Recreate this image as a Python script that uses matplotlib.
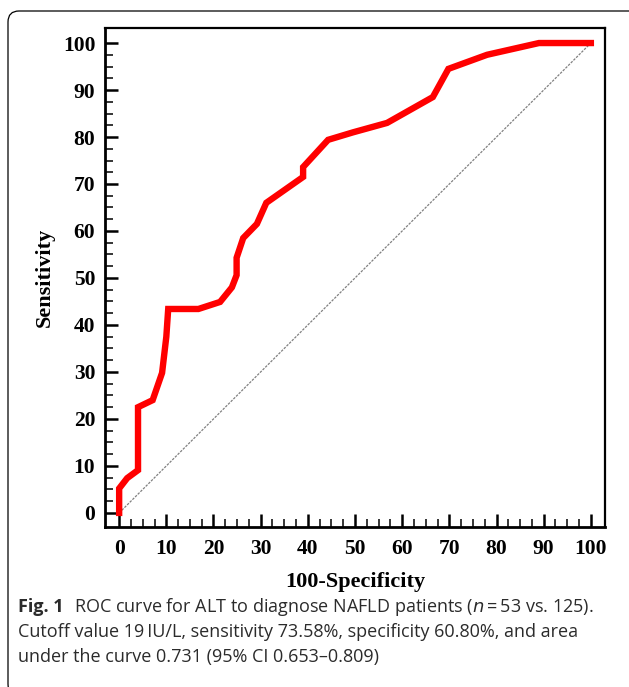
import matplotlib
matplotlib.use("Agg")
import matplotlib.pyplot as plt
import matplotlib.patches as mpatches
import matplotlib.transforms as mtransforms
from matplotlib.ticker import FixedLocator

# ROC curve points (100-specificity, sensitivity)
fpr = [0, 0, 1.7, 4.0, 4.0, 7.1, 9.1, 10.0, 10.4, 16.8, 21.4, 23.9, 24.9, 24.9,
       26.3, 29.2, 31.2, 39.0, 39.0, 44.3, 49.6, 56.8, 66.5, 69.8, 78.0, 89.0, 100]
tpr = [0, 5.2, 7.4, 9.1, 22.5, 24.0, 29.8, 37.5, 43.4, 43.4, 44.9, 48.0, 50.6, 54.3,
       58.5, 61.5, 66.0, 71.5, 73.6, 79.4, 81.0, 83.0, 88.5, 94.5, 97.5, 100, 100]
ref_line = [0, 100]
ticks = list(range(0, 101, 10))
minor_ticks = [t + d for t in range(0, 100, 10) for d in (2.5, 5, 7.5)]

caption_lines = [
    "ROC curve for ALT to diagnose NAFLD patients ($\\it{n}$\u2009=\u200953 vs. 125).",
    "Cutoff value 19\u2009IU/L, sensitivity 73.58%, specificity 60.80%, and area",
    "under the curve 0.731 (95% CI 0.653\u20130.809)",
]

W, H = 629, 687
fig = plt.figure(figsize=(W / 100, H / 100), dpi=100)
fig.patch.set_facecolor("white")

# rounded frame around the figure (runs off the right and bottom edges)
frame = mpatches.FancyBboxPatch((8, -8), W + 30, H - 11 + 8,
                                boxstyle="round,pad=0,rounding_size=11",
                                transform=mtransforms.IdentityTransform(),
                                fill=False, ec="black", lw=0.9)
fig.patches.append(frame)

ax = fig.add_axes([105 / W, 1 - 527 / H, 500 / W, 499 / H])
ax.plot(ref_line, ref_line, color="#808080", lw=0.9, ls=(0, (2, 1)), zorder=2)
ax.plot(fpr, tpr, color="#ff0000", lw=4.6, solid_joinstyle="miter", zorder=3)

ax.set_xlim(-3, 103)
ax.set_ylim(-3, 103.2)
ax.set_xticks(ticks)
ax.set_yticks(ticks)
ax.xaxis.set_minor_locator(FixedLocator(minor_ticks))
ax.yaxis.set_minor_locator(FixedLocator(minor_ticks))

serif = "Liberation Serif"
for lab in ax.get_xticklabels() + ax.get_yticklabels():
    lab.set_fontfamily(serif)
    lab.set_fontweight("bold")
    lab.set_fontsize(15.5)

ax.tick_params(which="major", direction="in", length=9.5, width=1.8,
               top=False, right=False, color="black")
ax.tick_params(which="minor", direction="in", length=5.5, width=1.1,
               top=False, right=False, color="black")
ax.tick_params(axis="x", which="major", pad=9)
ax.tick_params(axis="y", which="major", pad=7)

for side in ["left", "bottom"]:
    ax.spines[side].set_linewidth(2.0)
for side in ["top", "right"]:
    ax.spines[side].set_linewidth(1.6)

ax.set_xlabel("100-Specificity", fontfamily=serif, fontweight="bold",
              fontsize=16, labelpad=9)
ax.set_ylabel("Sensitivity", fontfamily=serif, fontweight="bold",
              fontsize=16, labelpad=6)

# caption
cap_font = "Open Sans"
cap_color = "#2b2b2b"
cap_size = 13
y0 = 1 - 607 / H
fig_lbl = fig.text(18 / W, y0, "Fig. 1", fontfamily=cap_font, fontweight="bold",
                   fontsize=cap_size, color=cap_color, va="center", ha="left")
renderer = fig.canvas.get_renderer()
x1 = (fig_lbl.get_window_extent(renderer).x1 + 10) / W
fig.text(x1, y0, caption_lines[0], fontfamily=cap_font,
         fontsize=cap_size, color=cap_color, va="center", ha="left")
for i, line in enumerate(caption_lines[1:], start=1):
    fig.text(18 / W, 1 - (607 + 25 * i) / H, line, fontfamily=cap_font,
             fontsize=cap_size, color=cap_color, va="center", ha="left")

fig.savefig("out.png", dpi=100)
